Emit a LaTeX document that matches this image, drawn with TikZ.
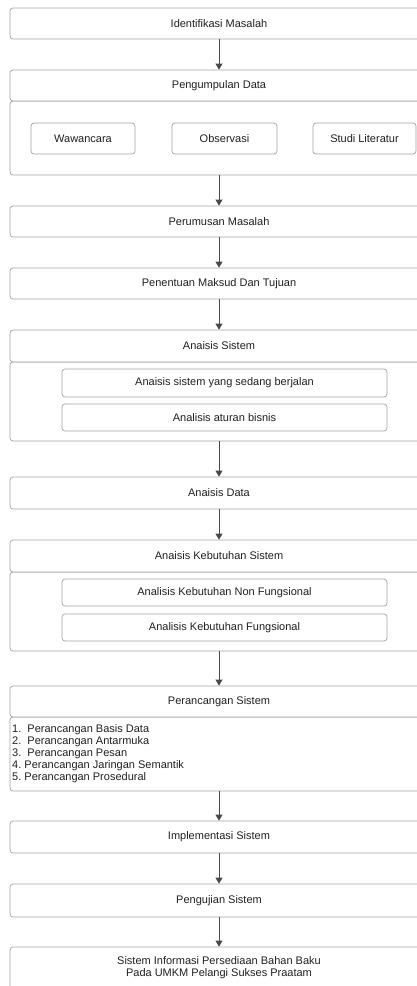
\documentclass[tikz,border=0pt]{standalone}
\usepackage{fontspec}
\setmainfont{Liberation Sans}
\usetikzlibrary{arrows.meta}

\definecolor{edgegray}{HTML}{A3A3A3}
\definecolor{arrowgray}{HTML}{454A50}
\definecolor{txtgray}{HTML}{202020}

\begin{document}
\begin{tikzpicture}[x=1pt,y=-1pt,
    stage/.style={draw=edgegray, line width=0.7pt, rounded corners=3pt, fill=white,
      text=txtgray, font=\fontsize{11}{12}\selectfont, align=center, inner sep=0pt,
      minimum width=418pt, minimum height=31pt},
    panel/.style={stage, minimum height=#1},
    sub/.style={stage, minimum width=#1, minimum height=28pt},
    flow/.style={draw=arrowgray, line width=0.8pt, -{Triangle[width=7pt,length=6pt]}}]
    \useasboundingbox (0,0) rectangle (417,986);
    % stages
    \node[stage] (idm) at (219,23.5) {Identifikasi Masalah};
    \node[panel=74pt] (pdb) at (219,138) {};
    \node[stage] (pdh) at (219,85.5) {Pengumpulan Data};
    \node[sub=104pt, minimum height=31pt] (ww) at (83,138.5) {Wawancara};
    \node[sub=105pt, minimum height=31pt] (ob) at (224.5,138.5) {Observasi};
    \node[sub=103pt, minimum height=31pt] (sl) at (364.5,138.5) {Studi Literatur};
    \node[stage] (pm) at (219,221.5) {Perumusan Masalah};
    \node[stage] (pmt) at (219,283.5) {Penentuan Maksud Dan Tujuan};
    \node[panel=79pt] (asb) at (219,401.5) {};
    \node[panel=32pt] (ash) at (219,346) {Anaisis Sistem};
    \node[sub=325pt] (as1) at (224.5,383) {Anaisis sistem yang sedang berjalan};
    \node[sub=325pt, minimum height=27pt] (as2) at (224.5,417.5) {Analisis aturan bisnis};
    \node[panel=32pt] (ad) at (219,493) {Anaisis Data};
    \node[panel=79pt] (aksb) at (219,611.5) {};
    \node[panel=32pt] (aksh) at (219,556) {Anaisis Kebutuhan Sistem};
    \node[sub=325pt, minimum height=27pt] (aks1) at (224.5,592.5) {Analisis Kebutuhan Non Fungsional};
    \node[sub=325pt, minimum height=27pt] (aks2) at (224.5,627.5) {Analisis Kebutuhan Fungsional};
    \node[panel=74pt] (psb) at (219,754) {};
    \node[stage] (psh) at (219,701.5) {Perancangan Sistem};
    \node[anchor=north west, align=left, inner sep=0pt, text=txtgray,
      font=\fontsize{11}{12}\selectfont] (psl) at (12,724.5)
      {1.\ \ Perancangan Basis Data\\
       2.\ \ Perancangan Antarmuka\\
       3.\ \ Perancangan Pesan\\
       4.\ Perancangan Jaringan Semantik\\
       5.\ Perancangan Prosedural};
    \node[panel=32pt] (is) at (219,837) {Implementasi Sistem};
    \node[panel=33pt] (pgs) at (219,900.5) {Pengujian Sistem};
    \node[panel=42pt] (sip) at (219,968) {Sistem Informasi Persediaan Bahan Baku\\
      Pada UMKM Pelangi Sukses Praatam};
    % arrows
    \draw[flow] (idm) -- (pdh);
    \draw[flow] (pdb) -- (pm);
    \draw[flow] (pm) -- (pmt);
    \draw[flow] (pmt) -- (ash);
    \draw[flow] (asb) -- (ad);
    \draw[flow] (ad) -- (aksh);
    \draw[flow] (aksb) -- (psh);
    \draw[flow] (psb) -- (is);
    \draw[flow] (is) -- (pgs);
    \draw[flow] (pgs) -- (sip);
\end{tikzpicture}
\end{document}
